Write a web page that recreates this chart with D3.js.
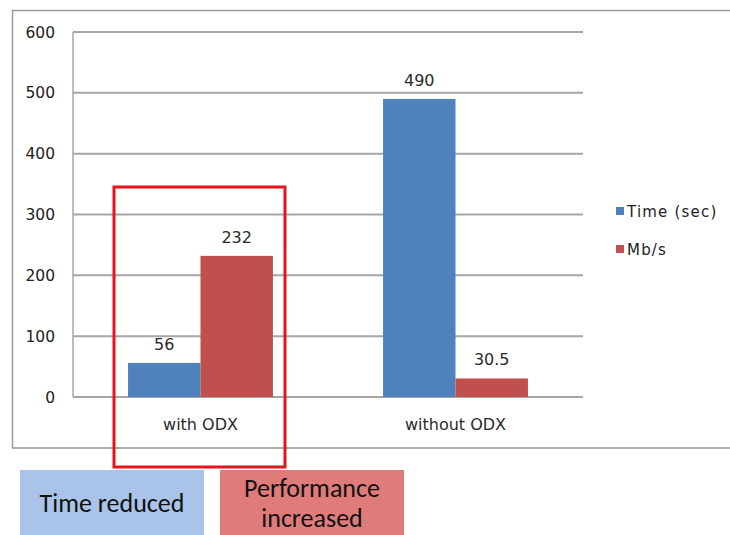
<!DOCTYPE html>
<html>
<head>
<meta charset="utf-8">
<script src="https://cdn.jsdelivr.net/npm/d3@7"></script>
<style>
  body { margin: 0; background: #fff; }
  svg { display: block; }
</style>
</head>
<body>
<svg id="chart" width="730" height="535"></svg>
<script>
const categories = ["with ODX", "without ODX"];
const seriesNames = ["Time (sec)", "Mb/s"];
const timeValues = [56, 490];
const mbsValues = [232, 30.5];
const yTicks = [0, 100, 200, 300, 400, 500, 600];
const valueLabels = [["56", "232"], ["490", "30.5"]];
const calloutTexts = [["Time reduced"], ["Performance", "increased"]];

const colors = { "Time (sec)": "#4f81bd", "Mb/s": "#c0504d" };
const calloutColors = ["#a9c4e8", "#e07b7b"];
const chartFont = "DejaVu Sans, Verdana, sans-serif";

const svg = d3.select("#chart");

// chart frame (right edge runs off the page)
svg.append("rect")
    .attr("x", 12.5).attr("y", 10.5)
    .attr("width", 740).attr("height", 437.5)
    .attr("fill", "#fff")
    .attr("stroke", "#9a9a9a")
    .attr("stroke-width", 1.5);
svg.append("line")
    .attr("x1", 12).attr("x2", 730)
    .attr("y1", 448).attr("y2", 448)
    .attr("stroke", "#9fb59f").attr("stroke-width", 1.5);

const plot = { left: 73, right: 583, top: 32, bottom: 397 };

const y = d3.scaleLinear().domain([0, 600]).range([plot.bottom, plot.top]);
const x0 = d3.scaleBand().domain(categories).range([plot.left, plot.right]);
const x1 = d3.scaleBand().domain(seriesNames).range([0, x0.bandwidth()]).paddingOuter(0.76);

// gridlines
svg.append("g")
    .selectAll("line")
    .data(yTicks)
    .join("line")
    .attr("x1", plot.left).attr("x2", plot.right)
    .attr("y1", d => y(d)).attr("y2", d => y(d))
    .attr("stroke", "#a6a6a6").attr("stroke-width", 2);

svg.append("line")
    .attr("x1", plot.left).attr("x2", plot.left)
    .attr("y1", plot.top).attr("y2", plot.bottom)
    .attr("stroke", "#a6a6a6").attr("stroke-width", 1.5);

// y tick labels
svg.append("g")
    .selectAll("text")
    .data(yTicks)
    .join("text")
    .attr("x", 55)
    .attr("y", d => y(d) + 5.5)
    .attr("text-anchor", "end")
    .attr("font-family", chartFont)
    .attr("font-size", 15.5)
    .attr("fill", "#222")
    .text(d => d);

const rows = categories.map((c, i) => ({
    category: c,
    values: [
        { name: seriesNames[0], value: timeValues[i], label: valueLabels[i][0] },
        { name: seriesNames[1], value: mbsValues[i], label: valueLabels[i][1] }
    ]
}));

const groups = svg.append("g")
    .selectAll("g")
    .data(rows)
    .join("g")
    .attr("transform", d => `translate(${x0(d.category)},0)`);

groups.selectAll("rect")
    .data(d => d.values)
    .join("rect")
    .attr("x", d => x1(d.name))
    .attr("y", d => y(d.value))
    .attr("width", x1.bandwidth())
    .attr("height", d => y(0) - y(d.value))
    .attr("fill", d => colors[d.name]);

groups.selectAll("text.val")
    .data(d => d.values)
    .join("text")
    .attr("class", "val")
    .attr("x", d => x1(d.name) + x1.bandwidth() / 2)
    .attr("y", d => y(d.value) - 13)
    .attr("text-anchor", "middle")
    .attr("font-family", chartFont)
    .attr("font-size", 16)
    .attr("fill", "#2a2a2a")
    .text(d => d.label);

// category labels
svg.append("g")
    .selectAll("text")
    .data(categories)
    .join("text")
    .attr("x", d => x0(d) + x0.bandwidth() / 2)
    .attr("y", 430)
    .attr("text-anchor", "middle")
    .attr("font-family", chartFont)
    .attr("font-size", 16)
    .attr("fill", "#2a2a2a")
    .text(d => d);

// legend
const legend = svg.append("g")
    .selectAll("g")
    .data(seriesNames)
    .join("g")
    .attr("transform", (d, i) => `translate(616,${207 + i * 38})`);
legend.append("rect")
    .attr("width", 8).attr("height", 8)
    .attr("fill", d => colors[d]);
legend.append("text")
    .attr("x", 11).attr("y", 10)
    .attr("font-family", chartFont)
    .attr("font-size", 15)
    .attr("letter-spacing", 1.2)
    .attr("fill", "#222")
    .text(d => d);

// highlight box around "with ODX"
svg.append("rect")
    .attr("x", 114).attr("y", 187)
    .attr("width", 171).attr("height", 280)
    .attr("fill", "none")
    .attr("stroke", "#e8131b")
    .attr("stroke-width", 3);

// callout boxes
const callouts = svg.append("g")
    .selectAll("g")
    .data(calloutTexts)
    .join("g")
    .attr("transform", (d, i) => `translate(${20 + i * 200},470)`);
callouts.append("rect")
    .attr("width", 184).attr("height", 65)
    .attr("fill", (d, i) => calloutColors[i]);
callouts.each(function(lines) {
    const g = d3.select(this);
    const startY = lines.length === 1 ? 42 : 27;
    lines.forEach((t, j) => {
        g.append("text")
            .attr("x", 92)
            .attr("y", startY + j * 30)
            .attr("text-anchor", "middle")
            .attr("font-family", "Carlito, Liberation Sans, sans-serif")
            .attr("font-size", 26)
            .attr("fill", "#111")
            .text(t);
    });
});
</script>
</body>
</html>
